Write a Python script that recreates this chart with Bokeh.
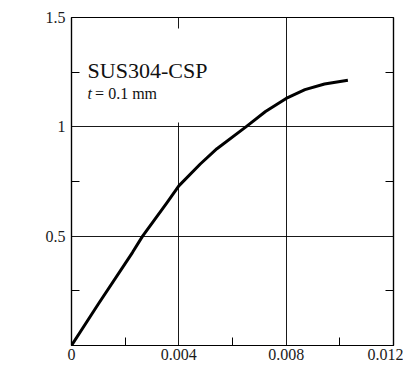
import math
from bokeh.plotting import figure
from bokeh.models import (FixedTicker, LinearAxis, Label, BoxAnnotation, Range1d)
from bokeh.embed import file_html
from bokeh.resources import INLINE

# data
strain = [0, 0.001, 0.00227, 0.00265, 0.00354, 0.004, 0.0048, 0.00542,
          0.0065, 0.00723, 0.008, 0.0087, 0.00943, 0.0103]
stress = [0, 0.19, 0.425, 0.50, 0.65, 0.73, 0.83, 0.90,
          1.0, 1.07, 1.13, 1.17, 1.196, 1.213]
x_ticks = [0, 0.004, 0.008, 0.012]
x_tick_labels = ["0", "0.004", "0.008", "0.012"]
y_ticks = [0, 0.5, 1.0, 1.5]
y_tick_labels = ["", "0.5", "1", "1.5"]
title_text = "SUS304-CSP"

SERIF = "Liberation Serif"

p = figure(width=403, height=379, output_backend="svg", toolbar_location=None,
           x_range=Range1d(0, 0.012), y_range=Range1d(0, 1.5),
           min_border_left=71, min_border_right=10, min_border_top=17,
           min_border_bottom=34, x_axis_location=None, y_axis_location=None)
p.background_fill_color = "white"
p.border_fill_color = "white"
p.outline_line_color = "black"
p.outline_line_width = 1.2

def style_axis(ax, ticks, labels):
    ax.ticker = FixedTicker(ticks=ticks,
                            minor_ticks=[(ticks[i] + ticks[i + 1]) / 2 for i in range(len(ticks) - 1)])
    ax.major_label_overrides = {t: l for t, l in zip(ticks, labels)}
    ax.major_tick_in = 0
    ax.major_tick_out = 0
    ax.minor_tick_in = 8
    ax.minor_tick_out = 0
    ax.minor_tick_line_color = "black"
    ax.minor_tick_line_width = 1
    ax.axis_line_color = "black"
    ax.axis_line_width = 1.2
    ax.major_label_text_font = SERIF
    ax.major_label_text_font_size = "16px"
    ax.major_label_text_color = "#1a1a1a"
    ax.major_label_standoff = 3

xb = LinearAxis()
style_axis(xb, x_ticks, x_tick_labels)
p.add_layout(xb, "below")
yl = LinearAxis()
style_axis(yl, y_ticks, y_tick_labels)
yl.major_label_standoff = 6
p.add_layout(yl, "left")
yr = LinearAxis()
style_axis(yr, y_ticks, ["", "", "", ""])
p.add_layout(yr, "right")

p.xgrid.ticker = FixedTicker(ticks=x_ticks)
p.ygrid.ticker = FixedTicker(ticks=y_ticks)
for g in (p.xgrid, p.ygrid):
    g.grid_line_color = "black"
    g.grid_line_width = 1
    g.grid_line_alpha = 0.9

# gap in the 0.004 grid line behind the annotation text
p.add_layout(BoxAnnotation(left=0.0035, right=0.0045, bottom=1.02, top=1.45,
                           fill_color="white", fill_alpha=1, line_alpha=0,
                           level="underlay"))

p.line(strain, stress, line_color="black", line_width=3, line_join="round")

p.add_layout(Label(x=0.0006, y=1.258, text=title_text, text_font=SERIF,
                   text_font_size="22px", text_color="#111111",
                   text_baseline="alphabetic"))
p.add_layout(Label(x=0.0006, y=1.153, text="t", text_font=SERIF,
                   text_font_style="italic", text_font_size="16px",
                   text_color="#111111", text_baseline="alphabetic"))
p.add_layout(Label(x=0.00088, y=1.153, text="= 0.1 mm", text_font=SERIF,
                   text_font_size="16px", text_color="#111111",
                   text_baseline="alphabetic"))

# axis titles
p.add_layout(Label(x=161, y=-24, x_units="screen", y_units="screen",
                   text="ε", text_font="DejaVu Sans", text_font_size="18px",
                   text_align="center", text_baseline="middle",
                   text_color="#111111"))
p.add_layout(Label(x=-42, y=180, x_units="screen", y_units="screen",
                   text="σ", text_font=SERIF, text_font_style="italic",
                   text_font_size="22px", angle=math.pi / 2,
                   text_align="center", text_baseline="middle",
                   text_color="#111111"))
p.add_layout(Label(x=-42, y=217, x_units="screen", y_units="screen",
                   text="GPa", text_font=SERIF, text_font_size="13px",
                   angle=math.pi / 2, text_align="center",
                   text_baseline="middle", text_color="#111111"))

open("out.html", "w").write(file_html(p, INLINE))
